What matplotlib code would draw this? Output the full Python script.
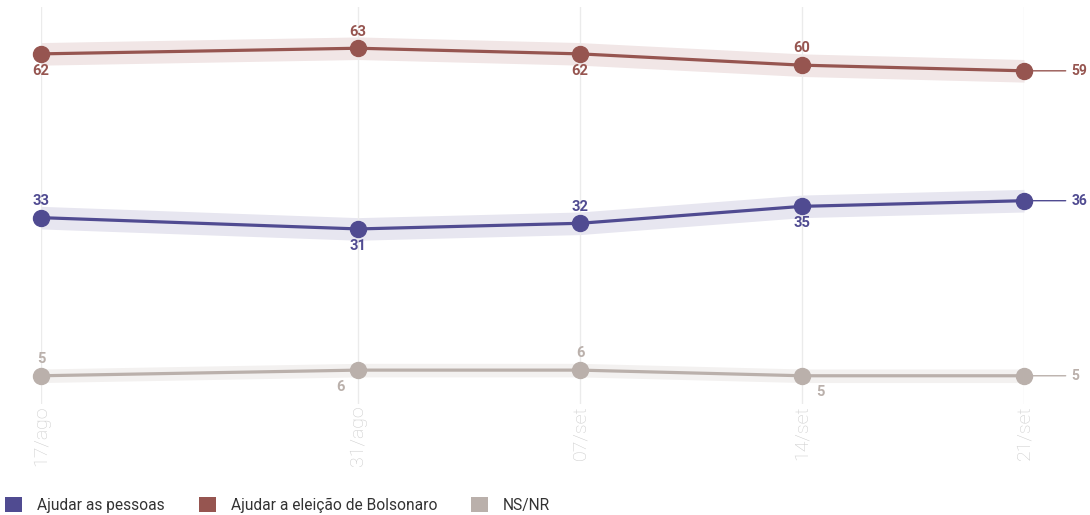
import datetime as dt
import matplotlib
matplotlib.use("Agg")
import matplotlib.pyplot as plt
from matplotlib.patches import Patch

plt.rcParams['font.family'] = ['Roboto', 'DejaVu Sans']

# survey dates and their labels
dates = [dt.date(2020, 8, 21), dt.date(2020, 8, 31), dt.date(2020, 9, 7),
         dt.date(2020, 9, 14), dt.date(2020, 9, 21)]
date_labels = ["17/ago", "31/ago", "07/set", "14/set", "21/set"]

names = ["Ajudar as pessoas", "Ajudar a eleição de Bolsonaro", "NS/NR"]
pessoas = [33, 31, 32, 35, 36]
bolsonaro = [62, 63, 62, 60, 59]
nsnr = [5, 6, 6, 5, 5]
margins = [2, 2, 1.2]

colors = ["#504b91", "#965550", "#bab0ab"]
band_colors = ["#e7e6f0", "#f1e6e6", "#f3f1f0"]

# label side per point: 1 above, -1 below, 0 = end label on the right
pos_pessoas = [1, -1, 1, -1, 0]
pos_bolsonaro = [-1, 1, -1, 1, 0]
pos_nsnr = [1, -1, 1, -1, 0]
dx_nsnr = [0, -13, 0, 13, 0]

fig = plt.figure(figsize=(10.9, 5.15), dpi=100)
ax = fig.add_axes([41 / 1090, 111 / 515, 983 / 1090, 397 / 515])

series = [(pessoas, pos_pessoas, [0] * 5),
          (bolsonaro, pos_bolsonaro, [0] * 5),
          (nsnr, pos_nsnr, dx_nsnr)]

for (vals, pos, dxs), col, bcol, m in zip(series, colors, band_colors, margins):
    lo = [v - m for v in vals]
    hi = [v + m for v in vals]
    ax.fill_between(dates, lo, hi, color=bcol, lw=0, zorder=1, clip_on=False)
    ax.plot(dates, vals, color=col, lw=2.3, marker="o", ms=11.5, zorder=3,
            clip_on=False)
    for d, v, p, dx in zip(dates, vals, pos, dxs):
        if p == 0:
            ax.annotate("", xy=(d, v), xytext=(30, 0), textcoords="offset points",
                        arrowprops=dict(arrowstyle="-", color=col, lw=1,
                                        shrinkA=0, shrinkB=0), zorder=2)
            ax.annotate(str(v), xy=(d, v), xytext=(34, 0),
                        textcoords="offset points", ha="left", va="center",
                        color=col, fontsize=10, fontweight="bold")
        else:
            ax.annotate(str(v), xy=(d, v), xytext=(dx, 12 * p),
                        textcoords="offset points", ha="center",
                        va="center", color=col, fontsize=10.5, fontweight="bold")

ax.set_ylim(0, 70.3)
ax.set_xlim(dates[0], dates[-1])
ax.set_yticks([])
ax.set_xticks(dates)
ax.set_xticklabels(date_labels, rotation=90, fontsize=14, color="#cccccc",
                   fontweight="light")
ax.tick_params(axis="x", length=0, pad=1)
ax.grid(axis="x", color="#ebebeb", lw=1, zorder=0)
for s in ax.spines.values():
    s.set_visible(False)

handles = [Patch(facecolor=c, edgecolor="none") for c in colors]
fig.legend(handles, names, loc="lower left", bbox_to_anchor=(0.005, 0.004),
           ncol=3, frameon=False, fontsize=11.2, handlelength=1.08,
           handleheight=1.08, handletextpad=0.96, columnspacing=2.2,
           borderpad=0, borderaxespad=0, labelcolor="#333333")

fig.savefig("out.png", dpi=100)
